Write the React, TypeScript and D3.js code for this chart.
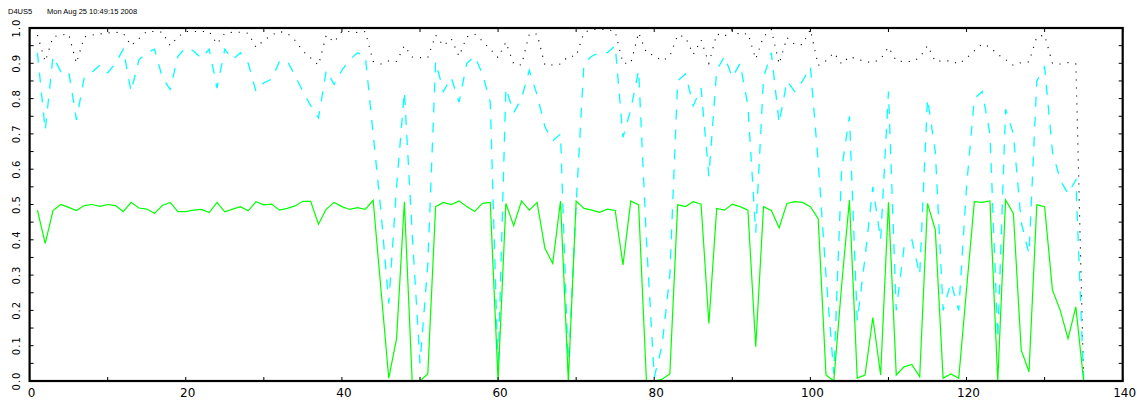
import React from "react";
import * as d3 from "d3";

// x positions 1..135
const xIndex: number[] = Array.from({ length: 135 }, (_, i) => i + 1);

const blackSeries: number[] = [
  0.98, 0.905, 0.975, 0.98, 0.983, 0.9, 0.975, 0.98, 0.983, 0.986,
  0.988, 0.985, 0.95, 0.97, 0.99, 0.99, 0.988, 0.95, 0.975, 0.99,
  0.99, 0.99, 0.99, 0.955, 0.985, 0.988, 0.988, 0.985, 0.945, 0.965,
  0.98, 0.99, 0.985, 0.965, 0.935, 0.915, 0.895, 0.98, 0.96, 0.99,
  0.99, 0.987, 0.99, 0.905, 0.898, 0.907, 0.905, 0.95, 0.918, 0.916,
  0.916, 0.98, 0.95, 0.97, 0.92, 0.975, 0.983, 0.963, 0.94, 0.916,
  0.96, 0.898, 0.895, 0.983, 0.983, 0.895, 0.895, 0.898, 0.92, 0.92,
  0.987, 0.996, 0.996, 0.996, 0.99, 0.9, 0.9, 0.987, 0.93, 0.922,
  0.907, 0.92, 0.98, 0.974, 0.925, 0.966, 0.9, 0.983, 0.976, 0.996,
  0.98, 0.985, 0.912, 0.976, 0.996, 0.898, 0.973, 0.953, 0.953, 0.996,
  0.894, 0.907, 0.93, 0.898, 0.919, 0.912, 0.905, 0.902, 0.912, 0.946,
  0.907, 0.905, 0.905, 0.916, 0.95, 0.905, 0.907, 0.907, 0.898, 0.915,
  0.935, 0.955, 0.946, 0.925, 0.911, 0.894, 0.902, 0.904, 0.975, 0.98,
  0.9, 0.898, 0.902, 0.898, 0.0,
];

const cyanSeries: number[] = [
  0.93, 0.71, 0.92, 0.876, 0.878, 0.74, 0.86, 0.875, 0.895, 0.873,
  0.9, 0.94, 0.82, 0.91, 0.93, 0.94, 0.86, 0.826, 0.92, 0.944,
  0.935, 0.914, 0.94, 0.83, 0.94, 0.91, 0.93, 0.9, 0.82, 0.845,
  0.855, 0.905, 0.907, 0.865, 0.82, 0.78, 0.745, 0.88, 0.84, 0.88,
  0.91, 0.93, 0.92, 0.7, 0.48, 0.22, 0.55, 0.82, 0.42, 0.05,
  0.33, 0.905, 0.82, 0.86, 0.79, 0.9, 0.92, 0.87, 0.79, 0.03,
  0.83, 0.76, 0.8, 0.88, 0.81, 0.72, 0.68, 0.7, 0.03, 0.5,
  0.9, 0.92, 0.93, 0.93, 0.95, 0.69, 0.77, 0.88, 0.4, 0.01,
  0.1, 0.3, 0.85, 0.87, 0.78, 0.83, 0.58, 0.88, 0.92, 0.86,
  0.9, 0.78, 0.42, 0.86, 0.93, 0.73, 0.85, 0.82, 0.85, 0.89,
  0.62, 0.3, 0.02, 0.6, 0.75, 0.17, 0.35, 0.55, 0.4, 0.82,
  0.2, 0.38, 0.4, 0.3, 0.8, 0.65, 0.2, 0.28, 0.2, 0.55,
  0.8, 0.82, 0.7, 0.12, 0.77, 0.7, 0.45, 0.36, 0.85, 0.89,
  0.65, 0.57, 0.53, 0.57, 0.0,
];

const greenSeries: number[] = [
  0.484, 0.39, 0.483, 0.5, 0.492, 0.483, 0.497, 0.5, 0.495, 0.5,
  0.497, 0.48, 0.506, 0.49, 0.487, 0.475, 0.497, 0.506, 0.48, 0.48,
  0.484, 0.486, 0.477, 0.506, 0.479, 0.487, 0.494, 0.482, 0.508, 0.499,
  0.501, 0.484, 0.489, 0.496, 0.509, 0.509, 0.444, 0.487, 0.506, 0.494,
  0.486, 0.491, 0.486, 0.512, 0.26, 0.008, 0.12, 0.508, 0.0, 0.0,
  0.02, 0.494, 0.506, 0.5, 0.51, 0.494, 0.48, 0.503, 0.506, 0.0,
  0.503, 0.44, 0.51, 0.484, 0.506, 0.376, 0.333, 0.51, 0.0, 0.51,
  0.489, 0.484, 0.478, 0.487, 0.483, 0.329, 0.51, 0.499, 0.0, 0.0,
  0.005, 0.02, 0.499, 0.494, 0.508, 0.501, 0.163, 0.489, 0.484, 0.501,
  0.494, 0.484, 0.097, 0.494, 0.483, 0.434, 0.503, 0.508, 0.506, 0.494,
  0.46, 0.017, 0.0, 0.27, 0.513, 0.008, 0.017, 0.18, 0.017, 0.506,
  0.017, 0.04, 0.047, 0.012, 0.503, 0.428, 0.008, 0.02, 0.008, 0.26,
  0.508, 0.506, 0.51, 0.0, 0.513, 0.475, 0.088, 0.026, 0.499, 0.494,
  0.258, 0.2, 0.12, 0.21, 0.0,
];

const xTickLabels: number[] = [0, 20, 40, 60, 80, 100, 120, 140];
const yTickLabels: string[] = ["0.0", "0.1", "0.2", "0.3", "0.4", "0.5", "0.6", "0.7", "0.8", "0.9", "1.0"];
const headerLeft = "D4US5";
const headerRight = "Mon Aug 25 10:49:15 2008";

export default function App() {
  const W = 1137;
  const H = 402;
  const left = 29.6;
  const right = 1122.7;
  const top = 28;
  const bottom = 381;

  const x = d3.scaleLinear().domain([0, 140]).range([left, right]);
  const y = d3.scaleLinear().domain([0, 1]).range([bottom, top]);

  const line = d3
    .line<number>()
    .x((_, i) => x(xIndex[i]))
    .y((d) => y(d));

  const xMinor = d3.range(0, 141, 10);
  const yMinor = d3.range(0, 1.0001, 0.05);

  return (
    <svg
      width={W}
      height={H}
      style={{ position: "absolute", left: 0, top: 0, background: "#fff" }}
    >
      <rect x={0} y={0} width={W} height={H} fill="#fff" />
      <text x={8} y={14} fontFamily="Liberation Sans, Arial, sans-serif" fontSize={7.5} fill="#000">
        {headerLeft}
      </text>
      <text x={47} y={14} fontFamily="Liberation Sans, Arial, sans-serif" fontSize={7.5} fill="#000">
        {headerRight}
      </text>

      {/* data */}
      <path d={line(blackSeries) || ""} fill="none" stroke="#000" strokeWidth={1.1} strokeDasharray="1.1 6.9" />
      <path d={line(cyanSeries) || ""} fill="none" stroke="#00ffff" strokeWidth={1.3} strokeDasharray="10 10" />
      <path d={line(greenSeries) || ""} fill="none" stroke="#00ff00" strokeWidth={1.2} />

      {/* frame */}
      <rect x={left} y={top} width={right - left} height={bottom - top} fill="none" stroke="#000" strokeWidth={2.2} />

      {/* x ticks bottom & top */}
      {xMinor.map((v) => (
        <g key={"xt" + v}>
          <line x1={x(v)} x2={x(v)} y1={bottom} y2={bottom - 4} stroke="#000" strokeWidth={1} />
          <line x1={x(v)} x2={x(v)} y1={top} y2={top + 4} stroke="#000" strokeWidth={1} />
        </g>
      ))}
      {/* y ticks left & right */}
      {yMinor.map((v) => (
        <g key={"yt" + v.toFixed(2)}>
          <line x1={left} x2={left + 4} y1={y(v)} y2={y(v)} stroke="#000" strokeWidth={1} />
          <line x1={right} x2={right - 4} y1={y(v)} y2={y(v)} stroke="#000" strokeWidth={1} />
        </g>
      ))}

      {/* x labels */}
      {xTickLabels.map((v) => (
        <text
          key={"xl" + v}
          x={x(v) + 2}
          y={397}
          textAnchor="middle"
          fontFamily="DejaVu Sans, sans-serif"
          fontSize={12}
          fill="#000"
        >
          {v}
        </text>
      ))}

      {/* y labels rotated */}
      {yTickLabels.map((lab, i) => (
        <text
          key={"yl" + lab}
          transform={`translate(19.5, ${y(i / 10)}) rotate(-90)`}
          textAnchor="middle"
          fontFamily="DejaVu Sans, sans-serif"
          fontSize={10}
          letterSpacing={1}
          fill="#000"
        >
          {lab}
        </text>
      ))}
    </svg>
  );
}
